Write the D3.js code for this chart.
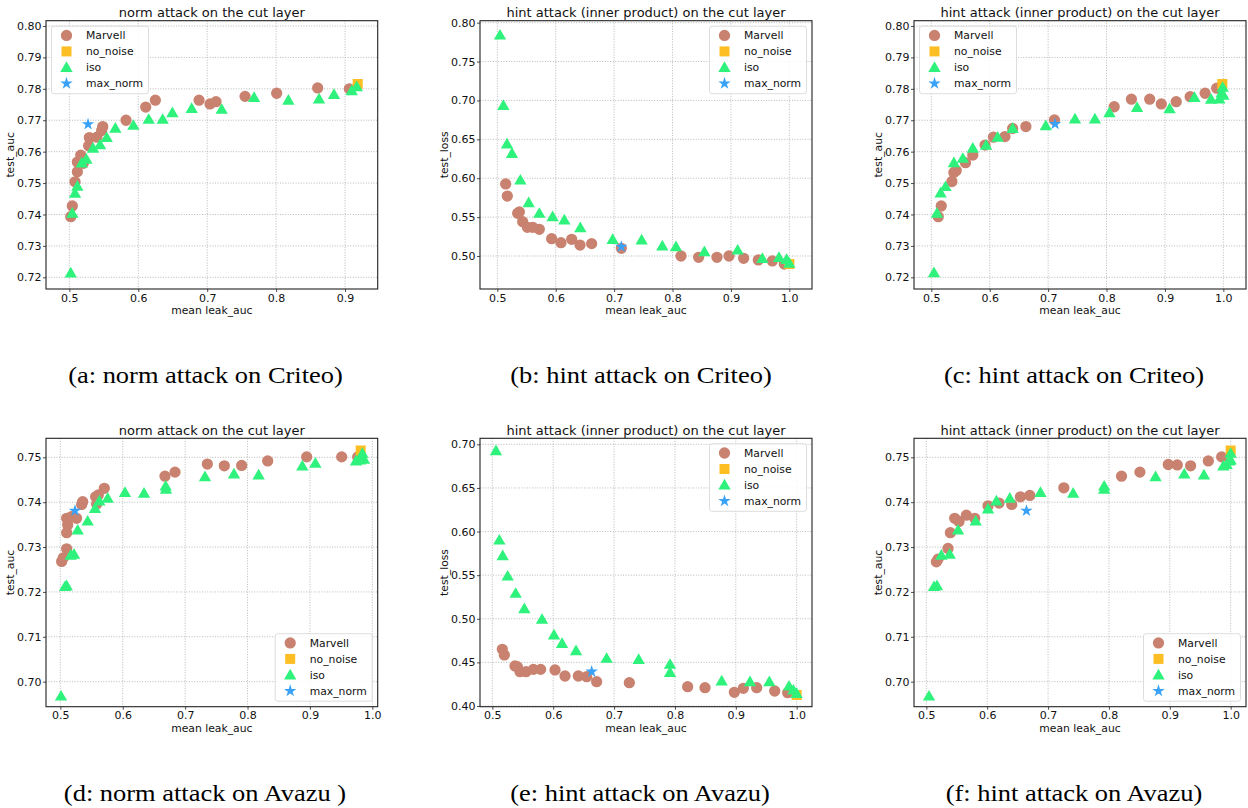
<!DOCTYPE html>
<html><head><meta charset="utf-8">
<script src="https://cdn.jsdelivr.net/npm/d3@7"></script>
<style>
html,body{margin:0;padding:0;background:#fff;}
svg{display:block;}
</style></head>
<body>
<svg id="chart" width="1248" height="808"></svg>
<script>
// ---------- data (mean leak_auc, metric) ----------
const seriesNames = ["Marvell", "no_noise", "iso", "max_norm"];

const aMarvell = [[0.502,0.7393],[0.5043,0.7427],[0.5082,0.7504],[0.5116,0.7536],[0.5116,0.7567],[0.5165,0.7589],[0.5203,0.7563],[0.528,0.7619],[0.529,0.7645],[0.540,0.7646],[0.5469,0.7667],[0.5484,0.768],[0.5822,0.770],[0.6108,0.7742],[0.6248,0.7764],[0.6882,0.7764],[0.7041,0.7752],[0.7128,0.7759],[0.7549,0.7776],[0.8008,0.7786],[0.8603,0.7803],[0.9063,0.780]];
const aIso = [[0.502,0.7214],[0.5043,0.7404],[0.5082,0.7468],[0.5116,0.749],[0.5179,0.7564],[0.5247,0.7576],[0.5343,0.7611],[0.5445,0.7622],[0.5542,0.7645],[0.5667,0.7675],[0.5929,0.7684],[0.6151,0.7703],[0.6354,0.7703],[0.6495,0.7724],[0.6775,0.7738],[0.721,0.7735],[0.768,0.7773],[0.8178,0.7764],[0.8623,0.7768],[0.884,0.7782],[0.9097,0.7794],[0.917,0.7807]];
const aNoNoise = [[0.9184,0.7815]];
const aMaxNorm = [[0.5271,0.7687]];

const bMarvell = [[0.5143,0.5926],[0.5171,0.5771],[0.5348,0.5549],[0.5377,0.5566],[0.5434,0.5441],[0.5514,0.5369],[0.5605,0.5369],[0.5719,0.5343],[0.593,0.5223],[0.609,0.5171],[0.6273,0.5214],[0.6416,0.5141],[0.6615,0.5159],[0.7123,0.5099],[0.8145,0.50],[0.8447,0.4983],[0.8761,0.4983],[0.8967,0.50],[0.9218,0.497],[0.9469,0.4949],[0.9709,0.4936],[0.9914,0.4897]];
const bIso = [[0.5046,0.7841],[0.5103,0.6937],[0.5166,0.644],[0.5251,0.632],[0.5394,0.5977],[0.5537,0.5686],[0.5719,0.5549],[0.5947,0.5506],[0.6147,0.5463],[0.6421,0.5364],[0.6975,0.5214],[0.7471,0.5206],[0.7825,0.5129],[0.8059,0.512],[0.8545,0.5056],[0.9115,0.5077],[0.9538,0.497],[0.9823,0.4983],[0.9954,0.4957],[1.0,0.4906]];
const bNoNoise = [[1.0,0.4897]];
const bMaxNorm = [[0.7123,0.512]];

const cMarvell = [[0.5119,0.7393],[0.517,0.7427],[0.5352,0.7505],[0.5386,0.7534],[0.5426,0.754],[0.5585,0.7565],[0.571,0.7589],[0.592,0.7621],[0.6063,0.7646],[0.6261,0.7648],[0.6392,0.7674],[0.6619,0.768],[0.7108,0.7701],[0.8131,0.7743],[0.8426,0.7767],[0.8739,0.7767],[0.8938,0.7752],[0.9193,0.7759],[0.9432,0.7775],[0.9688,0.7786],[0.9886,0.7802]];
const cIso = [[0.5045,0.7215],[0.5097,0.7404],[0.5159,0.7469],[0.5244,0.7489],[0.5386,0.7565],[0.554,0.7579],[0.571,0.7611],[0.5938,0.7621],[0.6136,0.7646],[0.6392,0.7674],[0.696,0.7683],[0.746,0.7704],[0.7801,0.7704],[0.805,0.7724],[0.8523,0.7741],[0.908,0.7737],[0.9506,0.7773],[0.979,0.7767],[0.9932,0.7768],[0.9972,0.7788],[0.9989,0.7805],[1.0,0.778]];
const cNoNoise = [[0.9983,0.7815]];
const cMaxNorm = [[0.7119,0.7688]];

const dMarvell = [[0.5021,0.7268],[0.5048,0.7276],[0.5101,0.7296],[0.5102,0.7332],[0.5118,0.7349],[0.5101,0.7364],[0.5182,0.7368],[0.526,0.7364],[0.5342,0.7395],[0.5358,0.7401],[0.5566,0.7412],[0.5582,0.7396],[0.5609,0.7416],[0.5705,0.7431],[0.6677,0.7458],[0.6838,0.7467],[0.7356,0.7485],[0.7628,0.7481],[0.7906,0.7482],[0.8323,0.7492],[0.8948,0.7501],[0.9509,0.7501],[0.9765,0.7501]];
const dIso = [[0.5011,0.6968],[0.5075,0.7212],[0.5101,0.7214],[0.5166,0.7282],[0.5219,0.7284],[0.5278,0.7338],[0.5438,0.7358],[0.5556,0.7386],[0.5625,0.7403],[0.5759,0.7409],[0.6036,0.7422],[0.6341,0.742],[0.6688,0.7436],[0.6693,0.7429],[0.7318,0.7457],[0.7783,0.7463],[0.8178,0.7461],[0.8878,0.7481],[0.9087,0.7487],[0.9738,0.7492],[0.9802,0.7494],[0.984,0.7509],[0.9866,0.7496]];
const dNoNoise = [[0.9813,0.7515]];
const dMaxNorm = [[0.5235,0.7381]];

const eMarvell = [[0.5164,0.465],[0.5197,0.4585],[0.5372,0.4459],[0.5411,0.4451],[0.5455,0.4394],[0.5553,0.4394],[0.5674,0.442],[0.5794,0.442],[0.603,0.4413],[0.6194,0.4344],[0.6413,0.4344],[0.655,0.4336],[0.6714,0.4279],[0.7251,0.4267],[0.8209,0.4222],[0.8494,0.421],[0.8976,0.4157],[0.9124,0.4203],[0.9343,0.421],[0.9639,0.4172],[0.9852,0.4153]];
const eIso = [[0.506,0.6927],[0.5115,0.5903],[0.517,0.5724],[0.5252,0.549],[0.5383,0.5292],[0.5526,0.5116],[0.5816,0.4994],[0.6013,0.4814],[0.6145,0.4718],[0.6375,0.4634],[0.6878,0.4547],[0.7404,0.4535],[0.7919,0.4478],[0.7919,0.4386],[0.8768,0.4287],[0.9233,0.4279],[0.9551,0.4279],[0.9874,0.4229],[0.9945,0.4183],[1.0,0.4145]];
const eNoNoise = [[1.0,0.4126]];
const eMaxNorm = [[0.6632,0.4394]];

const fMarvell = [[0.5165,0.7267],[0.5192,0.7273],[0.5356,0.7297],[0.5395,0.7332],[0.5466,0.7364],[0.5537,0.7357],[0.5658,0.7371],[0.5795,0.7364],[0.6014,0.7392],[0.6195,0.7398],[0.6403,0.7395],[0.6546,0.7412],[0.67,0.7415],[0.7259,0.7432],[0.8207,0.7458],[0.8509,0.7467],[0.8975,0.7484],[0.9123,0.7483],[0.9342,0.7481],[0.9633,0.7492],[0.9852,0.7501]];
const fIso = [[0.5044,0.6968],[0.5126,0.7212],[0.5175,0.7214],[0.5247,0.7282],[0.5384,0.7284],[0.5521,0.7338],[0.5811,0.7358],[0.6014,0.7385],[0.6151,0.7403],[0.6371,0.7409],[0.6875,0.7422],[0.7412,0.742],[0.7922,0.7436],[0.7922,0.7429],[0.8766,0.7457],[0.9238,0.7463],[0.9561,0.7461],[0.9879,0.7481],[0.9934,0.7484],[0.9978,0.7492],[1.0,0.7509],[1.0,0.7494]];
const fNoNoise = [[1.0,0.7515]];
const fMaxNorm = [[0.6645,0.7381]];

// ---------- tick values ----------
const xTicksCriteoNorm = [0.5, 0.6, 0.7, 0.8, 0.9];
const xTicksFull = [0.5, 0.6, 0.7, 0.8, 0.9, 1.0];
const yTicksAucCriteo = [0.72, 0.73, 0.74, 0.75, 0.76, 0.77, 0.78, 0.79, 0.80];
const yTicksLossCriteo = [0.50, 0.55, 0.60, 0.65, 0.70, 0.75, 0.80];
const yTicksAucAvazu = [0.70, 0.71, 0.72, 0.73, 0.74, 0.75];
const yTicksLossAvazu = [0.40, 0.45, 0.50, 0.55, 0.60, 0.65, 0.70];

// ---------- texts ----------
const titles = ["norm attack on the cut layer", "hint attack (inner product) on the cut layer", "hint attack (inner product) on the cut layer",
                "norm attack on the cut layer", "hint attack (inner product) on the cut layer", "hint attack (inner product) on the cut layer"];
const yLabels = ["test_auc", "test_loss", "test_auc", "test_auc", "test_loss", "test_auc"];
const xLabel = "mean leak_auc";
const captions = ["(a: norm attack on Criteo)", "(b: hint attack on Criteo)", "(c: hint attack on Criteo)",
                  "(d: norm attack on Avazu )", "(e: hint attack on Avazu)", "(f: hint attack on Avazu)"];

// ---------- layout / style ----------
const colors = {Marvell: "#c9826f", no_noise: "#fdbe24", iso: "#2ef27c", max_norm: "#3aa2f6"};
const symbols = {Marvell: d3.symbolCircle, no_noise: d3.symbolSquare, iso: d3.symbolTriangle, max_norm: d3.symbolStar};
const symSize = {Marvell: 100, no_noise: 100, iso: 66, max_norm: 48};

const panels = [
  {rect:[46,20.7,377.7,289], xd:[0.4661,0.9474], yd:[0.71628,0.80169], xt:xTicksCriteoNorm, yt:yTicksAucCriteo, yf:".2f",
   data:[aMarvell,aNoNoise,aIso,aMaxNorm], legend:"ul", cap:[205.5,383]},
  {rect:[480,20.7,812,289], xd:[0.47032,1.03882], yd:[0.45757,0.80253], xt:xTicksFull, yt:yTicksLossCriteo, yf:".2f",
   data:[bMarvell,bNoNoise,bIso,bMaxNorm], legend:"ur", cap:[641,383]},
  {rect:[914,20.7,1246,289], xd:[0.47032,1.03882], yd:[0.71628,0.80169], xt:xTicksFull, yt:yTicksAucCriteo, yf:".2f",
   data:[cMarvell,cNoNoise,cIso,cMaxNorm], legend:"ul", cap:[1074,383]},
  {rect:[46,438.3,377.7,706.7], xd:[0.47703,1.0086], yd:[0.69442,0.75424], xt:xTicksFull, yt:yTicksAucAvazu, yf:".2f",
   data:[dMarvell,dNoNoise,dIso,dMaxNorm], legend:"lr", cap:[205,801]},
  {rect:[480,438.3,812,706.7], xd:[0.47974,1.02519], yd:[0.3992,0.70691], xt:xTicksFull, yt:yTicksLossAvazu, yf:".2f",
   data:[eMarvell,eNoNoise,eIso,eMaxNorm], legend:"ur", cap:[640,801]},
  {rect:[914,438.3,1246,706.7], xd:[0.47974,1.02519], yd:[0.69442,0.75424], xt:xTicksFull, yt:yTicksAucAvazu, yf:".2f",
   data:[fMarvell,fNoNoise,fIso,fMaxNorm], legend:"lr", cap:[1074,801]}
];

const svg = d3.select("#chart");
const FONT = "DejaVu Sans, sans-serif";

panels.forEach((p, i) => {
  const [L, T, R, B] = p.rect;
  const x = d3.scaleLinear().domain(p.xd).range([L, R]);
  const y = d3.scaleLinear().domain(p.yd).range([B, T]);
  const g = svg.append("g");

  const clipId = "clip" + i;
  g.append("clipPath").attr("id", clipId).append("rect")
    .attr("x", L).attr("y", T).attr("width", R - L).attr("height", B - T);

  // grid
  const grid = g.append("g").attr("stroke", "#a8a8a8").attr("stroke-width", 0.8)
    .attr("stroke-dasharray", "1,1.6");
  p.xt.forEach(v => grid.append("line").attr("x1", x(v)).attr("x2", x(v)).attr("y1", T).attr("y2", B));
  p.yt.forEach(v => grid.append("line").attr("x1", L).attr("x2", R).attr("y1", y(v)).attr("y2", y(v)));

  // axes
  const xa = g.append("g").attr("transform", `translate(0,${B})`)
    .call(d3.axisBottom(x).tickValues(p.xt).tickFormat(d3.format(".1f")).tickSize(3).tickPadding(2));
  const ya = g.append("g").attr("transform", `translate(${L},0)`)
    .call(d3.axisLeft(y).tickValues(p.yt).tickFormat(d3.format(p.yf)).tickSize(3).tickPadding(1.5));
  [xa, ya].forEach(a => {
    a.select(".domain").remove();
    a.selectAll("text").attr("font-family", FONT).attr("font-size", 11).attr("fill", "#111");
    a.selectAll("line").attr("stroke", "#222").attr("stroke-width", 0.8);
  });

  // points (order: Marvell, no_noise, iso, max_norm)
  const pts = g.append("g").attr("clip-path", `url(#${clipId})`);
  seriesNames.forEach((name, si) => {
    const sym = d3.symbol().type(symbols[name]).size(symSize[name]);
    pts.append("g").selectAll("path").data(p.data[si]).join("path")
      .attr("d", sym)
      .attr("transform", d => `translate(${x(d[0])},${y(d[1])})` + (name === "iso" ? " translate(0,1)" : ""))
      .attr("fill", colors[name]);
  });

  // frame
  g.append("rect").attr("x", L).attr("y", T).attr("width", R - L).attr("height", B - T)
    .attr("fill", "none").attr("stroke", "#222").attr("stroke-width", 1.1);

  // title
  g.append("text").attr("x", (L + R) / 2).attr("y", T - 3.5).attr("text-anchor", "middle")
    .attr("font-family", FONT).attr("font-size", 13).attr("fill", "#111").text(titles[i]);
  // axis labels
  g.append("text").attr("x", (L + R) / 2).attr("y", B + 25).attr("text-anchor", "middle")
    .attr("font-family", FONT).attr("font-size", 10.8).attr("fill", "#111").text(xLabel);
  g.append("text").attr("transform", `translate(${L - 32},${(T + B) / 2}) rotate(-90)`)
    .attr("text-anchor", "middle").attr("font-family", FONT).attr("font-size", 10.8).attr("fill", "#111")
    .text(yLabels[i]);

  // legend
  const lw = 97, lh = 67.5, off = 5.5;
  const lx = p.legend === "ul" ? L + off : R - off - lw;
  const ly = p.legend === "lr" ? B - off - lh : T + off;
  const lg = g.append("g").attr("transform", `translate(${lx},${ly})`);
  lg.append("rect").attr("width", lw).attr("height", lh).attr("rx", 2.5)
    .attr("fill", "#fff").attr("fill-opacity", 0.85).attr("stroke", "#d4d4d4").attr("stroke-width", 0.8);
  seriesNames.forEach((name, si) => {
    const yy = 9.2 + si * 16;
    const sym = d3.symbol().type(symbols[name]).size(symSize[name]);
    lg.append("path").attr("d", sym)
      .attr("transform", `translate(15,${yy + (name === "iso" ? 1 : 0)})`).attr("fill", colors[name]);
    lg.append("text").attr("x", 34.5).attr("y", yy + 4).attr("font-family", FONT).attr("font-size", 10.8)
      .attr("fill", "#111").text(name);
  });

  // caption
  const cap = svg.append("text").attr("x", p.cap[0]).attr("y", p.cap[1]).attr("text-anchor", "middle")
    .attr("font-family", "Liberation Serif, Times New Roman, serif").attr("font-size", 23).attr("fill", "#000")
    .text(captions[i]);
  const w = cap.node().getComputedTextLength();
  cap.attr("textLength", w * 1.15).attr("lengthAdjust", "spacingAndGlyphs");
});
</script>
</body></html>
